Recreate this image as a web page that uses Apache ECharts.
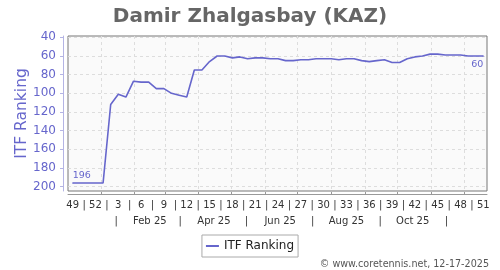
<!DOCTYPE html>
<html>
<head>
<meta charset="utf-8">
<script src="https://cdn.jsdelivr.net/npm/echarts@6/dist/echarts.min.js"></script>
<style>
  html, body { margin: 0; padding: 0; background: #fff; }
  #main { width: 500px; height: 270px; }
</style>
</head>
<body>
<div id="main"></div>
<script>
// weekly ITF ranking, week 49 of 2024 to week 51 of 2025
let weeks = [49, 50, 51, 52, 1, 2, 3, 4, 5, 6, 7, 8, 9, 10, 11, 12, 13, 14, 15, 16, 17, 18, 19, 20, 21, 22, 23, 24, 25, 26,
  27, 28, 29, 30, 31, 32, 33, 34, 35, 36, 37, 38, 39, 40, 41, 42, 43, 44, 45, 46, 47, 48, 49, 50, 51];
let ranks = [196, 196, 196, 196, 196, 112, 101, 104, 87, 88, 88, 95, 95, 100, 102, 104, 75, 75, 66, 60, 60, 62, 61, 63, 62, 62,
  63, 63, 65, 65, 64, 64, 63, 63, 63, 64, 63, 63, 65, 66, 65, 64, 67, 67, 63, 61, 60, 58, 58, 59, 59, 59, 60, 60, 60];
let yTicks = [40, 60, 80, 100, 120, 140, 160, 180, 200];
let monthStarts = ['2025-01-01', '2025-02-01', '2025-03-01', '2025-04-01', '2025-05-01', '2025-06-01',
  '2025-07-01', '2025-08-01', '2025-09-01', '2025-10-01', '2025-11-01', '2025-12-01'];
let monthLabels = ['Feb 25', 'Apr 25', 'Jun 25', 'Aug 25', 'Oct 25'];
let monthLabelDays = ['2025-02-15', '2025-04-15', '2025-06-15', '2025-08-15', '2025-10-15'];
let monthSepDays = ['2025-01-15', '2025-03-15', '2025-05-15', '2025-07-15', '2025-09-15', '2025-11-15'];

let DAY = 86400000;
let WEEK = 7 * DAY;
let t0 = Date.UTC(2024, 11, 6);
let ts = (s) => Date.parse(s + 'T00:00:00Z');

let data = ranks.map((r, i) => [t0 + i * WEEK, r]);
// first and last values get a text label (line labels need a symbol)
data[0] = {
  value: data[0], symbol: 'circle', symbolSize: 1,
  label: { show: true, position: 'top', align: 'left', distance: 2 }
};
data[data.length - 1] = {
  value: data[data.length - 1], symbol: 'circle', symbolSize: 1,
  label: { show: true, position: 'bottom', align: 'right', distance: 3 }
};

// week numbers every 3rd week, with | between
let weekVals = [], weekText = {};
for (let i = 0; i < weeks.length; i += 3) {
  let v = t0 + i * WEEK;
  weekVals.push(v);
  weekText[v] = String(weeks[i]);
  if (i + 3 < weeks.length) {
    let s = t0 + i * WEEK + 1.5 * WEEK;
    weekVals.push(s);
    weekText[s] = '|';
  }
}
let monthVals = [], monthText = {};
monthLabelDays.forEach((d, i) => { monthVals.push(ts(d)); monthText[ts(d)] = monthLabels[i]; });
monthSepDays.forEach((d) => { monthVals.push(ts(d)); monthText[ts(d)] = '|'; });

let xMin = t0 - 4.3 * DAY;
let xMax = t0 + (weeks.length - 1) * WEEK + 3.4 * DAY;
let font = 'DejaVu Sans';
let purple = '#6666cc';

let chart = echarts.init(document.getElementById('main'));
let option = {
  animation: false,
  textStyle: { fontFamily: font },
  title: [{
    text: 'Damir Zhalgasbay (KAZ)',
    left: 'center',
    top: 2,
    textStyle: { fontFamily: font, fontSize: 20, fontWeight: 'bold', color: '#666' }
  }, {
    text: '© www.coretennis.net, 12-17-2025',
    right: 11,
    top: 259,
    padding: 0,
    textStyle: { fontFamily: font, fontSize: 9.6, fontWeight: 'normal', color: '#555' }
  }],
  legend: {
    left: 'center',
    top: 235,
    padding: [4, 4],
    icon: 'rect',
    itemWidth: 13,
    itemHeight: 2,
    borderColor: '#aaa',
    borderWidth: 1,
    textStyle: { fontFamily: font, fontSize: 12, color: '#222', lineHeight: 14 },
    data: ['ITF Ranking']
  },
  grid: {
    left: 68, right: 13, top: 36, bottom: 79,
    show: true,
    backgroundColor: '#fafafa',
    borderColor: '#777',
    borderWidth: 1,
    outerBoundsMode: 'none'
  },
  xAxis: [{
    type: 'value',
    min: xMin,
    max: xMax,
    position: 'bottom',
    offset: 3,
    axisLine: { show: true, lineStyle: { color: '#999' } },
    axisTick: { show: true, inside: true, length: 2, customValues: monthStarts.map(ts), lineStyle: { color: '#999' } },
    splitLine: { show: true, lineStyle: { color: '#ddd', type: [3, 3] } },
    axisLabel: {
      customValues: weekVals,
      margin: 6,
      fontSize: 10,
      color: '#333',
      formatter: (v) => weekText[v] || ''
    }
  }, {
    type: 'value',
    min: xMin,
    max: xMax,
    position: 'bottom',
    offset: 22,
    axisLine: { show: false },
    axisTick: { show: false },
    splitLine: { show: false },
    axisLabel: {
      customValues: monthVals,
      margin: 3,
      fontSize: 10,
      color: '#333',
      formatter: (v) => monthText[v] || ''
    }
  }],
  yAxis: {
    type: 'value',
    inverse: true,
    min: 38.6,
    max: 204.6,
    offset: 5,
    name: 'ITF Ranking',
    nameLocation: 'middle',
    nameGap: 33,
    nameMoveOverlap: false,
    nameTextStyle: { fontFamily: font, fontSize: 15.5, color: purple },
    axisLine: { show: true, lineStyle: { color: '#b4b4e4' } },
    axisTick: { show: true, length: 3, customValues: yTicks, lineStyle: { color: '#b4b4e4' } },
    splitLine: { show: true, lineStyle: { color: '#ddd', type: [3, 3] } },
    axisLabel: { customValues: yTicks, margin: 7, fontSize: 12, color: purple }
  },
  series: [{
    name: 'ITF Ranking',
    type: 'line',
    symbol: 'none',
    data: data,
    lineStyle: { color: purple, width: 1.6 },
    itemStyle: { color: purple },
    label: { fontFamily: font, fontSize: 9.5, color: purple }
  }]
};
chart.setOption(option);
</script>
</body>
</html>
